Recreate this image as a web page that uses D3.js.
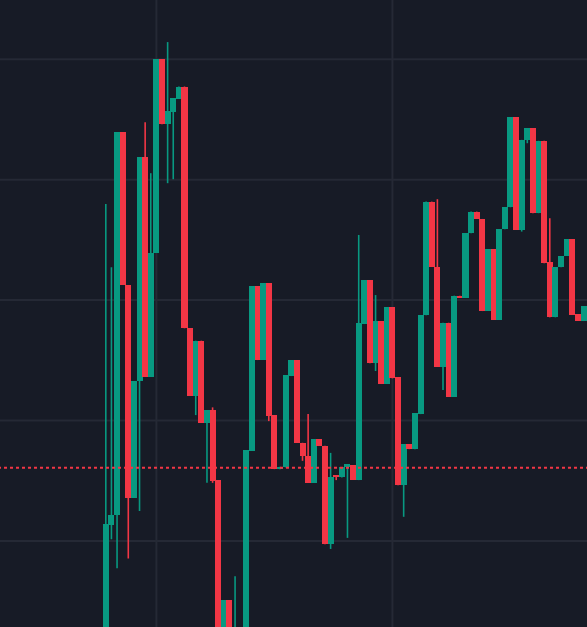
<!DOCTYPE html>
<html>
<head>
<meta charset="utf-8">
<script src="https://cdn.jsdelivr.net/npm/d3@7/dist/d3.min.js"></script>
<style>
  html, body { margin: 0; padding: 0; background: #171b26; overflow: hidden; }
  svg { display: block; }
</style>
</head>
<body>
<svg id="chart" width="587" height="627"></svg>
<script>
// ---- data ----
const bars = d3.range(86); // bar index (time axis)
const open = [100.91,111.30,112.19,143.95,131.26,113.57,123.25,141.87,123.63,133.94,
  150.02,144.61,145.66,146.72,147.74,127.66,122.03,126.63,119.81,120.86,
  115.02,98.5,105.07,99.2,102.4,100.5,117.46,131.17,125.02,131.40,
  120.45,115.96,116.10,123.69,125.00,118.15,117.07,114.82,118.43,117.90,
  109.73,115.46,115.27,116.12,116.29,115.05,128.01,131.67,124.75,128.26,
  123.03,129.40,123.58,114.63,118.01,117.62,120.53,128.74,138.18,132.75,
  124.46,128.12,121.97,130.37,130.20,135.55,137.35,136.74,129.09,134.22,
  128.35,135.89,137.71,145.20,135.83,143.31,144.28,137.22,143.23,133.14,
  128.57,132.73,133.67,135.05,128.82,128.26];
const high = [137.99,132.73,143.95,143.95,131.26,123.28,141.87,144.78,140.54,150.02,
  150.02,151.43,146.77,147.74,147.74,127.66,126.63,126.63,120.86,121.09,
  115.02,105.07,105.07,107.07,102.6,117.54,131.17,131.17,131.40,131.40,
  120.45,116.15,123.75,125.00,125.00,118.15,120.53,118.43,118.43,117.90,
  117.31,115.46,116.10,116.38,116.29,135.41,131.67,131.67,130.42,128.26,
  129.40,129.40,123.58,118.01,118.01,120.59,128.74,138.18,138.18,138.38,
  128.12,128.12,130.37,130.37,135.55,137.35,137.35,136.74,134.22,134.22,
  135.89,137.71,145.20,145.20,143.31,144.28,144.28,143.23,143.23,136.80,
  132.73,133.67,135.05,135.05,128.82,129.51];
const low = [99.67,110.14,107.73,131.26,108.54,113.57,112.49,123.63,123.63,133.94,
  144.61,139.71,140.04,146.72,127.66,122.03,120.45,119.81,114.82,114.82,
  97.5,98.2,98.6,98.8,99.8,100.2,117.46,125.02,125.02,119.95,
  115.96,115.96,116.10,123.69,118.15,116.65,114.82,114.82,117.90,109.73,
  109.33,115.05,115.27,110.25,115.05,115.05,128.01,124.75,124.11,123.03,
  123.03,123.50,114.63,112.00,117.62,117.62,120.53,128.74,132.75,124.46,
  122.53,121.97,121.97,130.20,130.20,135.55,136.74,129.09,129.09,128.35,
  128.35,135.89,137.71,135.83,135.69,143.03,137.22,137.22,133.06,128.57,
  128.57,132.73,133.67,128.76,128.26,128.26];
const close = [111.39,112.19,143.95,131.26,113.57,123.28,141.87,123.63,133.94,150.02,
  144.61,145.72,146.77,147.74,127.66,122.03,126.63,119.81,120.86,114.96,
  98.0,105.07,99.0,102.5,100.5,117.54,131.17,125.02,131.40,120.37,
  115.96,116.15,123.75,125.00,118.15,117.07,114.82,118.43,117.90,109.73,
  115.32,115.32,116.10,116.38,115.05,128.07,131.67,124.75,128.26,123.03,
  129.40,123.50,114.63,118.01,117.62,120.59,128.74,138.18,132.75,124.46,
  128.12,121.97,130.37,130.20,135.55,137.35,136.74,129.09,134.22,128.35,
  135.89,137.71,145.20,135.83,143.31,144.28,137.22,143.23,133.06,128.57,
  132.73,133.67,135.05,128.76,128.26,129.51];
const priceTicks = [110, 120, 130, 140, 150];   // horizontal grid levels
const timeTicks = [9, 51];                        // vertical grid at bar index
const priceLineValue = 116.07;                    // dotted price line

// ---- colours ----
const UP = "#089981", DOWN = "#f23645", GRID = "#252935", BG = "#171b26";

const W = 587, H = 627;
const svg = d3.select("#chart");
svg.append("rect").attr("width", W).attr("height", H).attr("fill", BG);

const x = d3.scaleBand().domain(bars).range([103.0, 103.0 + 86 * 5.62]).paddingInner(0).paddingOuter(0);
const y = d3.scaleLinear().domain([110, 150]).range([540.9, 59.3]);

// grid
svg.append("g").selectAll("line.h").data(priceTicks).join("line")
  .attr("x1", 0).attr("x2", W)
  .attr("y1", d => y(d)).attr("y2", d => y(d))
  .attr("stroke", GRID).attr("stroke-width", 2);
svg.append("g").selectAll("line.v").data(timeTicks).join("line")
  .attr("x1", d => x(d) + x.bandwidth() / 2).attr("x2", d => x(d) + x.bandwidth() / 2)
  .attr("y1", 0).attr("y2", H)
  .attr("stroke", GRID).attr("stroke-width", 2);

const data = bars.map(i => ({ i, o: open[i], h: high[i], l: low[i], c: close[i] }));
const col = d => d.c >= d.o ? UP : DOWN;

const g = svg.append("g");
// wicks
g.selectAll("line.wick").data(data).join("line")
  .attr("class", "wick")
  .attr("x1", d => x(d.i) + x.bandwidth() / 2).attr("x2", d => x(d.i) + x.bandwidth() / 2)
  .attr("y1", d => y(d.h)).attr("y2", d => y(d.l))
  .attr("stroke", col).attr("stroke-width", 1.6);
// bodies
g.selectAll("rect.body").data(data).join("rect")
  .attr("class", "body")
  .attr("x", d => x(d.i) - 0.2)
  .attr("width", x.bandwidth() + 0.4)
  .attr("y", d => y(Math.max(d.o, d.c)))
  .attr("height", d => Math.max(1.5, Math.abs(y(d.o) - y(d.c))))
  .attr("fill", col)
  .attr("shape-rendering", "crispEdges");

// dotted price line
svg.append("line")
  .attr("x1", 0).attr("x2", W)
  .attr("y1", y(priceLineValue)).attr("y2", y(priceLineValue))
  .attr("stroke", DOWN).attr("stroke-width", 2)
  .attr("stroke-dasharray", "3,3").attr("stroke-dashoffset", 2);
</script>
</body>
</html>
